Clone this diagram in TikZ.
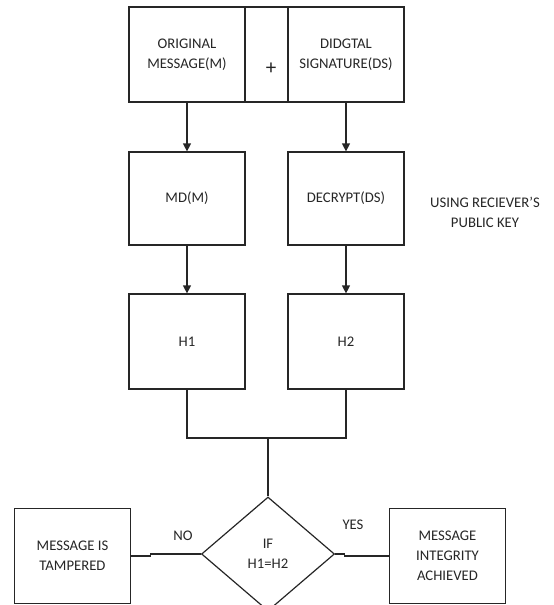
\documentclass[tikz,border=0pt]{standalone}
\usepackage{fontspec}
\setmainfont{Carlito}
\usetikzlibrary{arrows.meta,shapes.geometric}

\begin{document}
\begin{tikzpicture}
	[
	 x = 1pt,
	 y = -1pt,
	 every node/.style = {shape=rectangle,
		                  draw = black!85,
		                  line width = 1.2pt,
		                  align=center,
		                  text = black!85,
	                      font=\fontsize{14.7}{20}\selectfont,
	                      minimum width = 116pt,
	                      minimum height = 95pt,
	                      inner sep = 0pt
                         },
    IF/.style = {shape=diamond,
    	minimum width = 133pt,
    	minimum height = 114pt},
    PL/.style = {minimum width = 43pt},
    TX/.style = {draw = none,
    	minimum width = 0pt,
    	minimum height = 0pt},
    line/.style = {draw = black!85, line width = 1.2pt},
    arr/.style  = {line, -{Triangle[length=8pt,width=8pt]}}
	]
	
	\useasboundingbox (0,0) rectangle (554,605);
	
	\newcommand{\ORM}{ORIGINAL\\MESSAGE(M)}
	\newcommand{\DSG}{DIDGTAL\\SIGNATURE(DS)}
	\newcommand{\RPK}{USING RECIEVER'S\\PUBLIC KEY}
	\newcommand{\TMP}{MESSAGE IS\\TAMPERED}
	\newcommand{\MIA}{MESSAGE\\INTEGRITY\\ACHIEVED}
	
	\node (OM) at (187,54.5)   {\ORM};
	\node [PL] (PL) at (266.5,54.5) {};
	\node (DS) at (346,54.5)   {\DSG};
	\node [minimum height = 93pt] (MD) at (187,198.5) {MD(M)};
	\node [minimum height = 93pt] (DC) at (346,198.5) {DECRYPT(DS)};
	\node (H1) at (187,341.5)  {H1};
	\node (H2) at (346,341.5)  {H2};
	\node [IF] (IF) at (268,554) {IF\\H1=H2};
	\node (MT) at (72.5,556)   {\TMP};
	\node (MI) at (447.5,556)  {\MIA};
	\coordinate (J) at (IF.north |- 0,438);
	
	\draw [arr]  (OM.south) -- (MD.north);
	\draw [arr]  (DS.south) -- (DC.north);
	\draw [arr]  (MD.south) -- (H1.north);
	\draw [arr]  (DC.south) -- (H2.north);
	\draw [line] (H1.south) |- (J) -| (H2.south);
	\draw [line] (J) -- (IF.north);
	\draw [line] (MT.east) -- ++(19,0) |- (IF.west);
	\draw [line] (IF.east) -- ++(9,0)  |- (MI.west);
	
	\begin{scope}[nodes = {TX}]
	  \node [font=\fontsize{21}{24}\selectfont] (PLt) at (271,69) {+};
	  \node (KEY) at (485,212)  {\RPK};
	  \node (NO)  at (183,536)  {NO};
	  \node (YES) at (353,525)  {YES};
	\end{scope}
\end{tikzpicture}
\end{document}
